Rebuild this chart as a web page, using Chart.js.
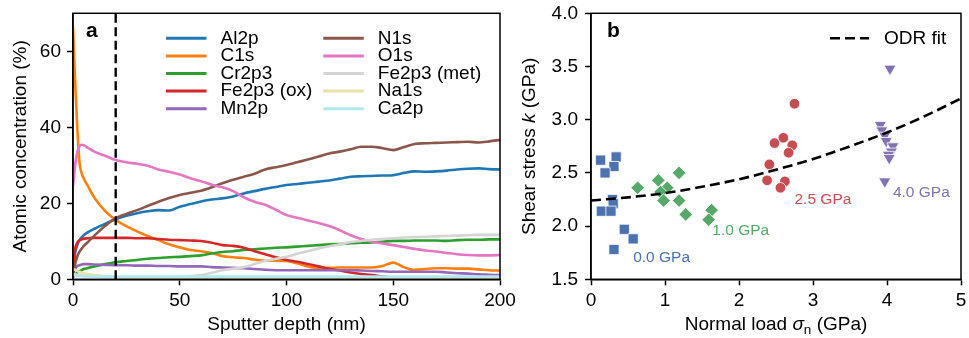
<!DOCTYPE html>
<html lang="en">
<head>
<meta charset="UTF-8">
<title>Depth profile and shear stress</title>
<script src="https://cdn.jsdelivr.net/npm/chart.js"></script>
<style>
  html, body { margin: 0; padding: 0; background: #fff; }
  canvas { position: absolute; top: 0; }
</style>
</head>
<body>
<canvas id="depthChart" width="525" height="338" style="left:0"></canvas>
<canvas id="stressChart" width="464" height="338" style="left:505px"></canvas>
<script>
// ---- panel a: XPS depth profile ----
const depth = [0, 1, 2, 3, 4, 5, 7, 10, 15, 20, 25, 30, 35, 40, 45, 50, 55, 60, 65, 70, 75, 80, 85, 90, 95, 100,
  105, 110, 115, 120, 125, 130, 135, 140, 145, 150, 155, 160, 165, 170, 175, 180, 185, 190, 195, 200];

const al2p = [2, 7, 9, 10.3, 11, 11.6, 12.4, 13.3, 14.6, 15.8, 16.7, 17.4, 17.9, 18.2, 18.1, 19.1, 19.8, 20.5, 21, 21.3,
  21.8, 22.6, 23.2, 23.8, 24.3, 24.8, 25.1, 25.4, 25.7, 26.0, 26.5, 27.0, 27.1, 27.2, 27.3, 27.4, 28.0, 28.4, 28.3, 28.4,
  28.6, 28.9, 29.1, 29.2, 29.0, 28.9];
const c1s = [66.5, 52, 40, 31, 28, 26.6, 24.5, 21.5, 18, 15.6, 14, 12.6, 11.4, 10.3, 9.2, 8.4, 7.7, 7.4, 6.9, 6.1,
  5.8, 5.6, 5.2, 4.9, 4.9, 4.8, 4.2, 3.4, 3.0, 3.0, 3.1, 3.1, 3.1, 3.1, 3.5, 4.4, 3.2, 2.5, 2.7, 2.9,
  2.9, 2.8, 2.8, 2.6, 2.4, 2.3];
const cr2p3 = [0.5, 1.3, 1.8, 2.1, 2.4, 2.7, 3.0, 3.4, 4.0, 4.5, 4.8, 5.1, 5.4, 5.6, 5.8, 5.9, 6.1, 6.3, 6.8, 7.2,
  7.4, 7.7, 7.9, 8.1, 8.3, 8.4, 8.6, 8.8, 9.0, 9.2, 9.3, 9.5, 9.6, 9.7, 9.9, 10.1, 10.1, 10.2, 10.2, 10.2,
  10.1, 10.3, 10.4, 10.4, 10.5, 10.5];
const fe2p3Ox = [3, 8, 9.6, 10.2, 10.5, 10.7, 10.8, 10.9, 10.9, 10.9, 10.9, 10.8, 10.8, 10.6, 10.4, 10.3, 10.2, 10.1, 9.6, 9.0,
  8.8, 8.3, 7.4, 6.6, 5.8, 5.1, 4.6, 4.0, 3.4, 2.8, 2.3, 1.8, 1.4, 1.1, 0.7, 0.4, 0.2, 0.1, 0.05, 0,
  0, 0, 0, 0, 0, 0];
const mn2p = [1.5, 2.8, 3.5, 3.7, 3.9, 4.0, 4.0, 3.9, 3.8, 3.7, 3.7, 3.6, 3.6, 3.5, 3.5, 3.4, 3.4, 3.4, 3.2, 3.1,
  3.0, 2.9, 2.7, 2.5, 2.4, 2.4, 2.4, 2.4, 2.4, 2.4, 2.4, 2.4, 2.3, 2.2, 2.1, 2.0, 2.0, 2.0, 2.0, 2.0,
  1.8, 1.6, 1.5, 1.3, 1.2, 1.1];
const n1s = [1, 4, 6, 7.2, 8, 8.7, 9.8, 11.5, 14, 16.1, 17.2, 18.2, 19.3, 20.4, 21.4, 22.2, 22.8, 23.3, 24.2, 25.3,
  26.2, 27, 27.8, 28.9, 29.5, 30.1, 30.8, 31.5, 32.3, 33.1, 33.6, 34.2, 34.9, 34.9, 34.5, 34.0, 34.8, 35.6, 35.8, 35.9,
  36.0, 36.1, 36.2, 36.0, 36.3, 36.7];
const o1s = [24.5, 30, 33.5, 35, 35.4, 35.3, 34.6, 33.6, 32.5, 31.4, 30.8, 30.4, 29.9, 28.9, 28.3, 27.6, 26.6, 25.8, 24.9, 24.2,
  23.2, 21.6, 20.4, 19.6, 18.3, 16.9, 16.2, 15.5, 14.8, 14.0, 12.9, 11.6, 10.6, 9.9, 9.4, 9.0, 8.5, 8.0, 7.6, 7.3,
  6.9, 6.6, 6.4, 6.3, 6.3, 6.4];
const fe2p3Met = [1.5, 1.3, 1.2, 1.1, 1.0, 0.9, 0.8, 0.7, 0.6, 0.6, 0.5, 0.5, 0.5, 0.5, 0.5, 0.6, 0.8, 1.1, 1.7, 2.4,
  2.8, 3.2, 4.0, 4.8, 5.4, 5.9, 6.7, 7.4, 8.1, 8.7, 9.2, 9.8, 10.1, 10.4, 10.6, 10.8, 11.0, 11.1, 11.2, 11.3,
  11.4, 11.5, 11.6, 11.7, 11.7, 11.7];
const na1s = [2.8, 2.5, 2.2, 2.0, 1.8, 1.6, 1.4, 1.1, 0.8, 0.6, 0.5, 0.4, 0.3, 0.3, 0.3, 0.3, 0.3, 0.3, 0.3, 0.3,
  0.3, 0.3, 0.3, 0.3, 0.3, 0.3, 0.3, 0.3, 0.3, 0.3, 0.3, 0.3, 0.2, 0.2, 0.2, 0.2, 0.2, 0.2, 0.2, 0.2,
  0.2, 0.2, 0.2, 0.2, 0.2, 0.2];
const ca2p = [1.2, 1.0, 0.9, 0.9, 0.8, 0.8, 0.8, 0.7, 0.7, 0.7, 0.7, 0.7, 0.7, 0.7, 0.7, 0.7, 0.7, 0.7, 0.7, 0.7,
  0.7, 0.7, 0.7, 0.7, 0.7, 0.7, 0.7, 0.7, 0.7, 0.7, 0.7, 0.7, 0.7, 0.7, 0.7, 0.7, 0.7, 0.7, 0.7, 0.7,
  0.7, 0.7, 0.7, 0.7, 0.7, 0.7];

const elementNames = ['Al2p', 'C1s', 'Cr2p3', 'Fe2p3 (ox)', 'Mn2p', 'N1s', 'O1s', 'Fe2p3 (met)', 'Na1s', 'Ca2p'];
const elementColors = ['#1f77b4', '#ff7f0e', '#2ca02c', '#d62728', '#9467bd', '#8c564b', '#e377c2', '#d4d4d4', '#e6e2a8', '#b0e8ee'];
const profiles = [al2p, c1s, cr2p3, fe2p3Ox, mn2p, n1s, o1s, fe2p3Met, na1s, ca2p];
const markerDepth = 20;
const depthTicks = [0, 50, 100, 150, 200];
const concTicks = [0, 20, 40, 60];

// ---- panel b: shear stress vs normal load ----
const load0 = [0.13, 0.34, 0.31, 0.19, 0.29, 0.30, 0.14, 0.27, 0.45, 0.57, 0.31];
const stress0 = [2.62, 2.65, 2.56, 2.50, 2.25, 2.21, 2.14, 2.14, 1.97, 1.88, 1.78];
const load1 = [0.63, 0.91, 1.19, 1.03, 0.94, 0.98, 1.19, 1.28, 1.63, 1.59];
const stress1 = [2.36, 2.43, 2.50, 2.36, 2.32, 2.24, 2.24, 2.11, 2.15, 2.06];
const load25 = [2.75, 2.48, 2.60, 2.72, 2.67, 2.41, 2.38, 2.62, 2.56];
const stress25 = [3.15, 2.78, 2.83, 2.76, 2.69, 2.58, 2.43, 2.42, 2.36];
const load4 = [4.04, 3.91, 3.93, 3.97, 3.99, 4.08, 4.06, 4.02, 4.03, 3.97];
const stress4 = [3.48, 2.95, 2.90, 2.85, 2.80, 2.75, 2.70, 2.67, 2.64, 2.42];
const fitLoad = [0, 0.5, 1, 1.5, 2, 2.5, 3, 3.5, 4, 4.5, 5];
const fitStress = [2.24, 2.27, 2.31, 2.37, 2.44, 2.53, 2.63, 2.75, 2.88, 3.03, 3.20];

const groupNames = ['0.0 GPa', '1.0 GPa', '2.5 GPa', '4.0 GPa'];
const groupColors = ['#4c72b0', '#55a868', '#c44e52', '#8172b2'];
const loadTicks = [0, 1, 2, 3, 4, 5];
const stressTicks = [1.5, 2.0, 2.5, 3.0, 3.5, 4.0];

// ---- shared styling ----
const FONT = '"Liberation Sans", Arial, Helvetica, sans-serif';
const TEXT_SIZE = 19;
Chart.defaults.font.family = FONT;
Chart.defaults.font.size = TEXT_SIZE;
Chart.defaults.color = '#000';

const pts = (xs, ys) => xs.map((x, i) => ({ x: x, y: ys[i] }));

function axisStyle(ticks, extra) {
  return Object.assign({
    type: 'linear',
    min: ticks[0],
    max: ticks[ticks.length - 1],
    afterBuildTicks: s => { s.ticks = ticks.map(v => ({ value: v })); },
    grid: { drawOnChartArea: false, tickLength: 6, tickWidth: 1.5, tickColor: '#000' },
    border: { color: '#000', width: 1.5 }
  }, extra);
}

// keep the plot box exactly where it is set, ignoring label overhang
function fixSize(prop, size) {
  return s => {
    s[prop] = size;
    s.paddingLeft = s.paddingRight = s.paddingTop = s.paddingBottom = 0;
  };
}

const framePlugin = {
  id: 'frame',
  afterDraw(chart) {
    const { ctx, chartArea: a } = chart;
    ctx.save();
    ctx.strokeStyle = '#000';
    ctx.lineWidth = 1.5;
    ctx.strokeRect(a.left, a.top, a.right - a.left, a.bottom - a.top);
    ctx.restore();
  }
};

function panelLabel(ctx, text, x, y) {
  ctx.save();
  ctx.font = 'bold 21px ' + FONT;
  ctx.fillStyle = '#000';
  ctx.textBaseline = 'middle';
  ctx.fillText(text, x, y);
  ctx.restore();
}

// text made of runs with their own style (italic symbols, subscripts)
function drawRuns(ctx, runs, cx, cy, vertical) {
  ctx.save();
  ctx.translate(cx, cy);
  if (vertical) ctx.rotate(-Math.PI / 2);
  const fontOf = r => (r.italic ? 'italic ' : '') + (r.size || TEXT_SIZE) + 'px ' + FONT;
  let total = 0;
  runs.forEach(r => { ctx.font = fontOf(r); r.w = ctx.measureText(r.text).width; total += r.w; });
  let x = -total / 2;
  ctx.fillStyle = '#000';
  ctx.textAlign = 'left';
  ctx.textBaseline = 'middle';
  runs.forEach(r => { ctx.font = fontOf(r); ctx.fillText(r.text, x, r.dy || 0); x += r.w; });
  ctx.restore();
}

// ---- chart a ----
const depthDatasets = profiles.map((vals, i) => ({
  label: elementNames[i],
  data: pts(depth, vals),
  showLine: true,
  borderColor: elementColors[i],
  backgroundColor: elementColors[i],
  borderWidth: 2.6,
  pointRadius: 0,
  cubicInterpolationMode: 'monotone',
  order: profiles.length - i
}));
depthDatasets.push({
  label: 'guide',
  data: [{ x: markerDepth, y: concTicks[0] }, { x: markerDepth, y: 70 }],
  showLine: true,
  borderColor: '#000',
  borderWidth: 2.4,
  borderDash: [9, 4.5],
  pointRadius: 0,
  order: 0
});

const depthLegend = {
  id: 'depthLegend',
  afterDraw(chart) {
    const ctx = chart.ctx;
    const colX = [166, 323.3];
    ctx.save();
    ctx.font = TEXT_SIZE + 'px ' + FONT;
    ctx.textBaseline = 'middle';
    elementNames.forEach((name, i) => {
      const x = colX[Math.floor(i / 5)];
      const y = 38.3 + (i % 5) * 17.6;
      ctx.strokeStyle = elementColors[i];
      ctx.lineWidth = 3;
      ctx.beginPath();
      ctx.moveTo(x, y);
      ctx.lineTo(x + 40.5, y);
      ctx.stroke();
      ctx.fillStyle = '#000';
      ctx.fillText(name, x + 54.5, y);
    });
    ctx.restore();
    panelLabel(ctx, 'a', 86, 31.7);
  }
};

new Chart(document.getElementById('depthChart'), {
  type: 'scatter',
  data: { datasets: depthDatasets },
  options: {
    responsive: false,
    animation: false,
    layout: { padding: { top: 13.3, right: 25, left: 0, bottom: 0 } },
    plugins: { legend: { display: false }, tooltip: { enabled: false } },
    scales: {
      x: axisStyle(depthTicks, {
        position: 'bottom',
        ticks: { padding: 4.5, maxRotation: 0 },
        title: { display: true, text: 'Sputter depth (nm)', padding: { top: 0, bottom: 2 } },
        afterFit: fixSize('height', 58.7)
      }),
      y: axisStyle(concTicks, {
        position: 'left',
        max: 70,
        ticks: { padding: 6 },
        title: { display: true, text: 'Atomic concentration (%)', padding: { top: 9.5, bottom: 0 } },
        afterFit: fixSize('width', 73)
      })
    }
  },
  plugins: [framePlugin, depthLegend]
});

// ---- chart b ----
const groups = [[load0, stress0], [load1, stress1], [load25, stress25], [load4, stress4]];
const markerStyles = [
  { pointStyle: 'rect', pointRadius: 7.2, pointRotation: 0 },
  { pointStyle: 'rectRot', pointRadius: 6.8, pointRotation: 0 },
  { pointStyle: 'circle', pointRadius: 5.3, pointRotation: 0 },
  { pointStyle: 'triangle', pointRadius: 7, pointRotation: 180 }
];

const stressDatasets = groups.map((g, i) => Object.assign({
  label: groupNames[i],
  data: pts(g[0], g[1]),
  backgroundColor: groupColors[i],
  borderColor: '#fff',
  borderWidth: 0.8,
  order: 5 - i
}, markerStyles[i]));
stressDatasets.push({
  label: 'ODR fit',
  data: pts(fitLoad, fitStress),
  showLine: true,
  borderColor: '#000',
  borderWidth: 2.6,
  borderDash: [10, 5],
  pointRadius: 0,
  cubicInterpolationMode: 'monotone',
  order: 0
});

const stressDecor = {
  id: 'stressDecor',
  afterDraw(chart) {
    const { ctx, scales: { x, y }, chartArea: a } = chart;
    // group captions placed in data units next to each cluster
    const captionAt = [[0.57, 1.70], [1.64, 1.96], [2.75, 2.25], [4.08, 2.31]];
    ctx.save();
    ctx.font = '15.5px ' + FONT;
    ctx.textBaseline = 'middle';
    groupNames.forEach((name, i) => {
      ctx.fillStyle = groupColors[i];
      ctx.fillText(name, x.getPixelForValue(captionAt[i][0]), y.getPixelForValue(captionAt[i][1]));
    });
    // fit legend
    ctx.strokeStyle = '#000';
    ctx.lineWidth = 2.6;
    ctx.setLineDash([10, 5]);
    ctx.beginPath();
    ctx.moveTo(325, 38.3);
    ctx.lineTo(364, 38.3);
    ctx.stroke();
    ctx.setLineDash([]);
    ctx.fillStyle = '#000';
    ctx.font = TEXT_SIZE + 'px ' + FONT;
    ctx.fillText('ODR fit', 379, 38.3);
    ctx.restore();

    drawRuns(ctx, [{ text: 'Shear stress ' }, { text: 'k', italic: true }, { text: ' (GPa)' }],
      25, (a.top + a.bottom) / 2, true);
    drawRuns(ctx, [{ text: 'Normal load ' }, { text: 'σ', italic: true }, { text: 'n', size: 13.5, dy: 5 }, { text: ' (GPa)' }],
      (a.left + a.right) / 2, 325, false);
    panelLabel(ctx, 'b', 102, 31);
  }
};

new Chart(document.getElementById('stressChart'), {
  type: 'scatter',
  data: { datasets: stressDatasets },
  options: {
    responsive: false,
    animation: false,
    layout: { padding: { top: 13.3, right: 4, left: 0, bottom: 0 } },
    plugins: { legend: { display: false }, tooltip: { enabled: false } },
    scales: {
      x: axisStyle(loadTicks, {
        position: 'bottom',
        ticks: { padding: 4.5, maxRotation: 0 },
        afterFit: fixSize('height', 58.7)
      }),
      y: axisStyle(stressTicks, {
        position: 'left',
        ticks: { padding: 7, callback: v => v.toFixed(1) },
        afterFit: fixSize('width', 86)
      })
    }
  },
  plugins: [framePlugin, stressDecor]
});
</script>
</body>
</html>
